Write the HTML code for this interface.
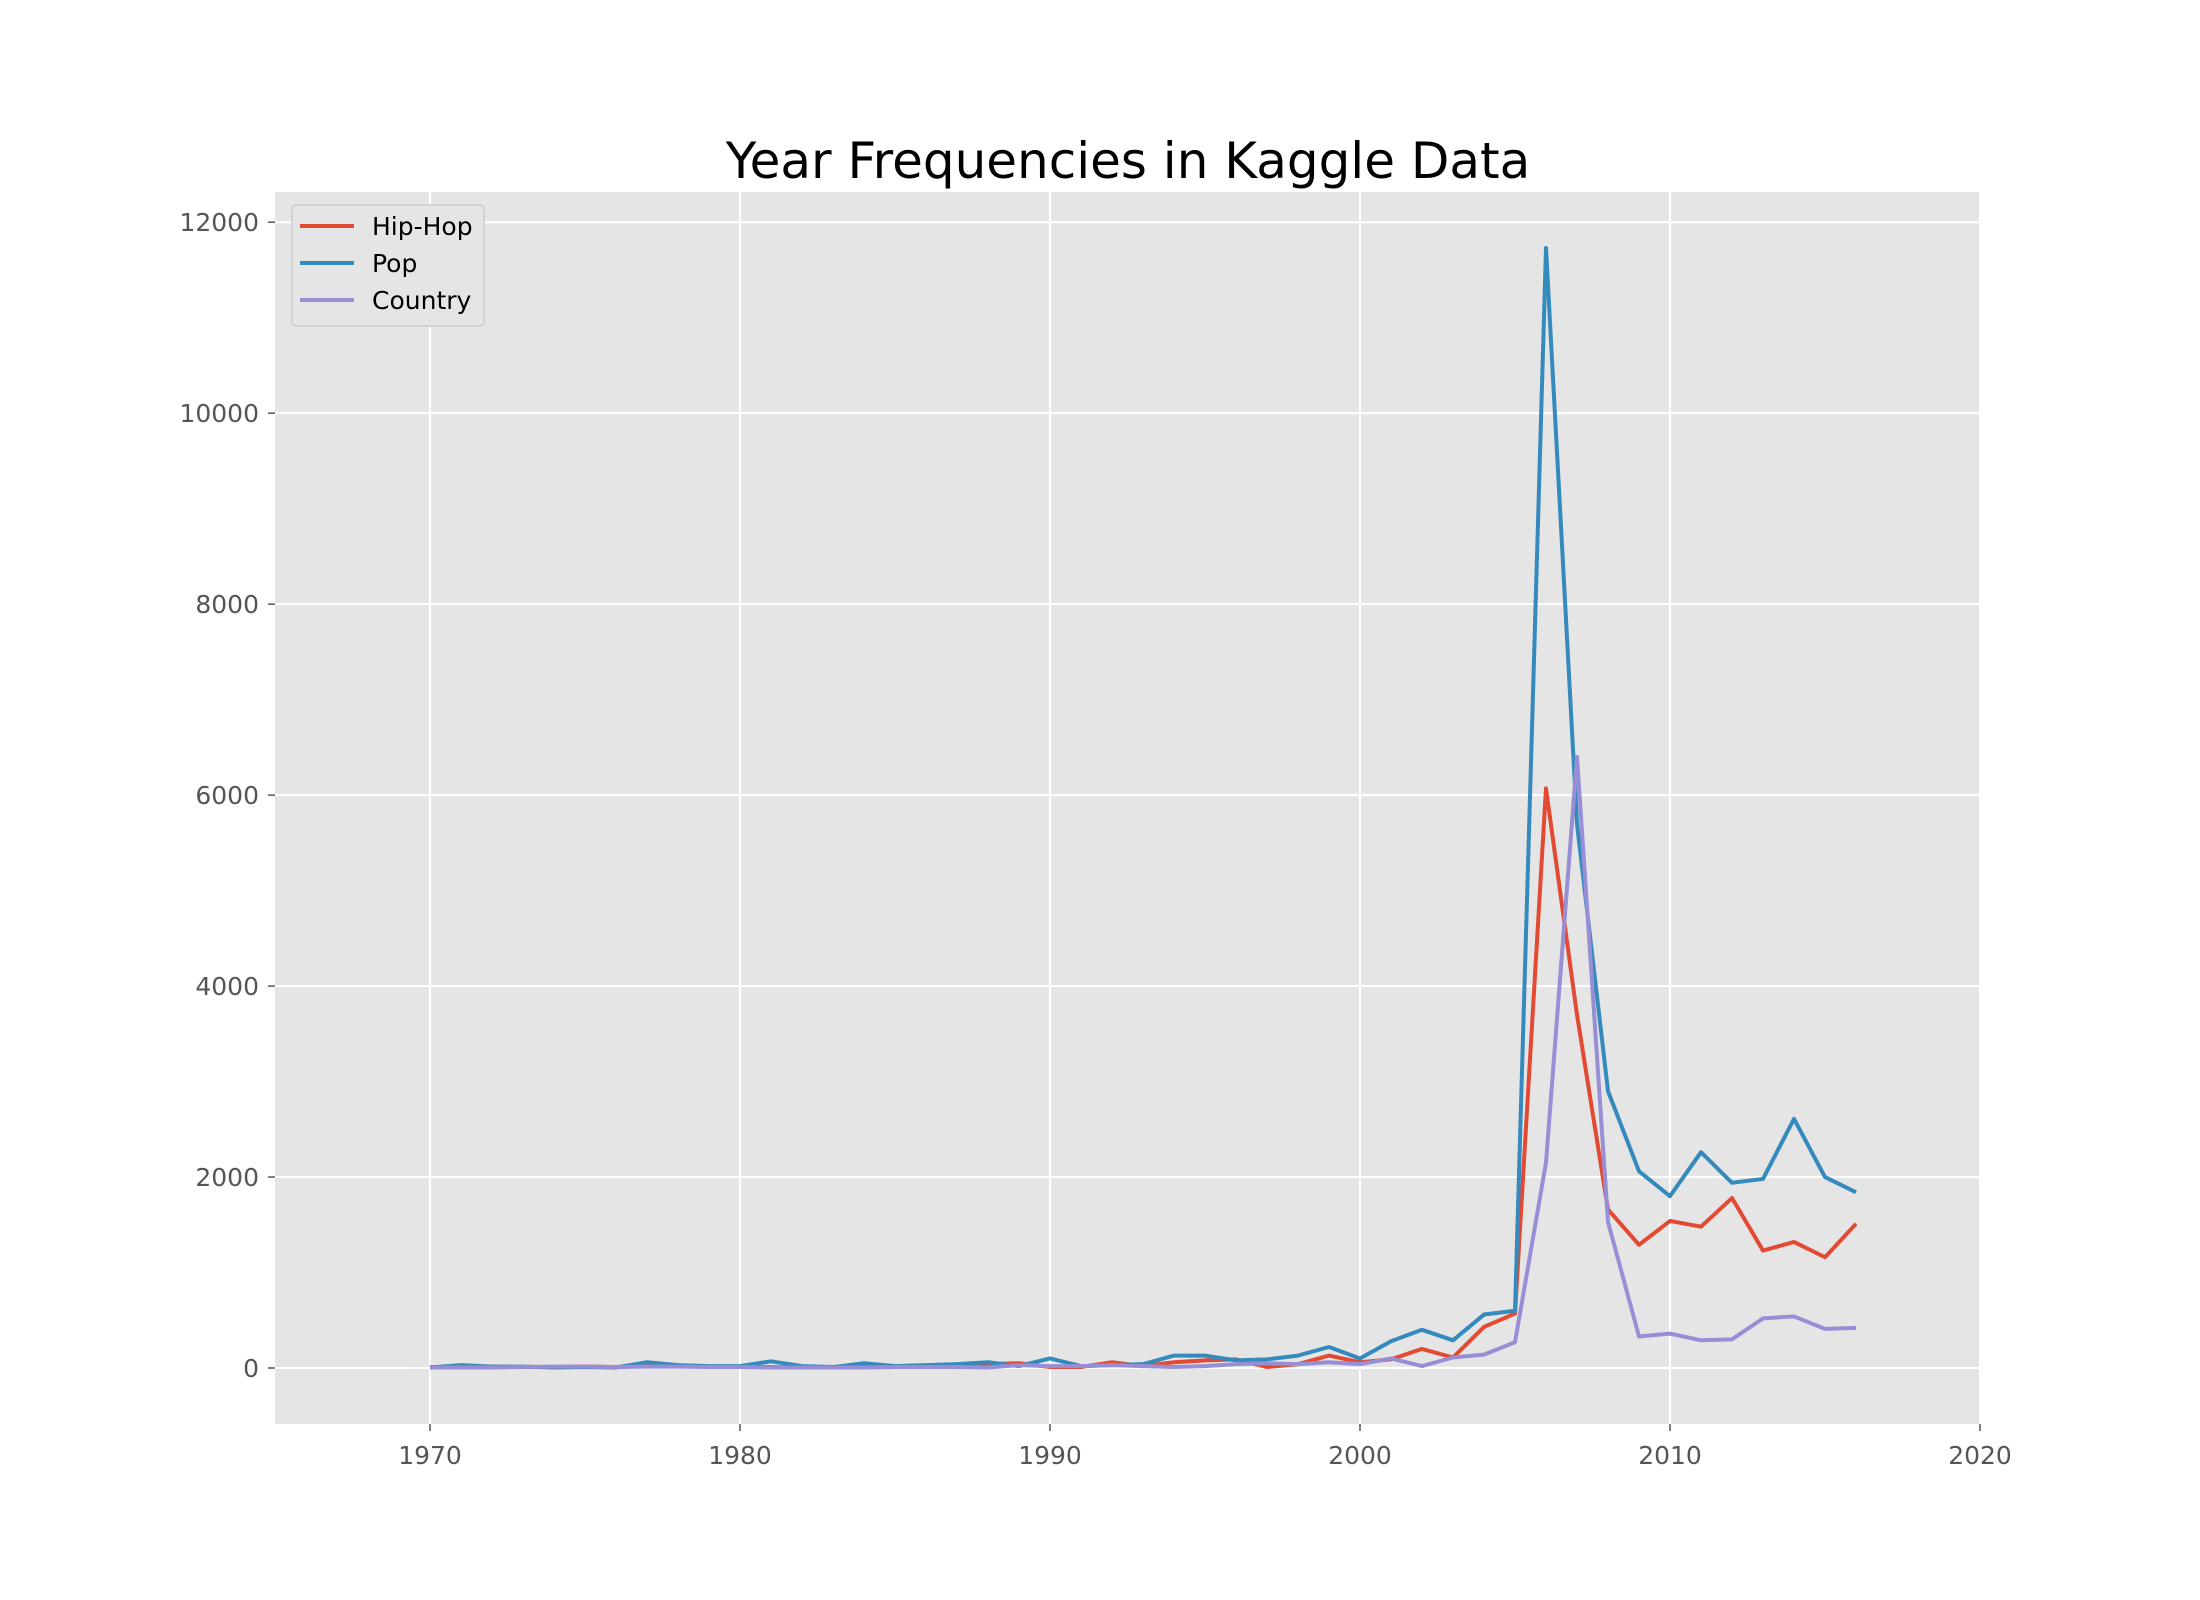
<!DOCTYPE html>
<html><head><meta charset="utf-8"><style>
html,body{margin:0;padding:0;background:#fff;}
svg{display:block;font-family:"DejaVu Sans","Liberation Sans",sans-serif;}
</style></head><body>
<svg id="chart" width="2200" height="1600" viewBox="0 0 2200 1600" xmlns="http://www.w3.org/2000/svg">
<rect width="2200" height="1600" fill="#fff"/>
<text x="1128" y="178" font-size="50" text-anchor="middle" fill="#000">Year Frequencies in Kaggle Data</text>
<g id="plot"></g>
</svg>
<script>
const years = [];
for (let y = 1970; y <= 2016; y++) years.push(y);
const hipHop = [10,10,15,10,10,15,10,20,20,15,10,10,5,10,15,20,25,30,40,50,10,10,60,20,60,80,90,10,40,130,60,90,200,110,430,570,6070,3700,1660,1290,1540,1480,1780,1230,1320,1160,1510];
const pop = [5,30,15,15,5,10,5,60,30,20,20,70,20,10,50,20,30,40,60,20,100,20,30,40,130,130,80,90,130,220,100,280,400,290,560,600,11730,5700,2900,2060,1800,2260,1940,1980,2610,2000,1840];
const country = [5,5,5,10,15,15,10,15,15,10,10,5,5,5,5,10,10,10,5,30,20,20,30,20,10,20,40,50,40,60,40,100,20,110,140,270,2150,6400,1530,330,360,290,300,520,540,410,420];
const xTicks = [1970,1980,1990,2000,2010,2020];
const yTicks = [0,2000,4000,6000,8000,10000,12000];
const seriesNames = ['Hip-Hop','Pop','Country'];
const seriesColors = ['#E24A33','#348ABD','#988ED5'];

const L=275,R=1980,T=192,B=1424;
const xMin=1965,xMax=2020,yMin=-586.5,yMax=12316.5;
const sx=v=>L+(v-xMin)/(xMax-xMin)*(R-L);
const sy=v=>B-(v-yMin)/(yMax-yMin)*(B-T);
const NS='http://www.w3.org/2000/svg';
const g=document.getElementById('plot');
function mk(tag,attrs,parent){const e=document.createElementNS(NS,tag);for(const k in attrs)e.setAttribute(k,attrs[k]);(parent||g).appendChild(e);return e;}

const bg=mk('rect',{x:L,y:T,width:R-L,height:B-T,fill:'#E5E5E5'});



xTicks.forEach(t=>{
  const x=sx(t);
  const gl=mk('line',{x1:x,x2:x,y1:T,y2:B,stroke:'#fff','stroke-width':2});
  
  
  const tk=mk('line',{x1:x,x2:x,y1:B,y2:B+7,stroke:'#555','stroke-width':1.5});
  
  
  const tx=mk('text',{x:x,y:B+40,'font-size':25,'text-anchor':'middle',fill:'#555'});
  tx.textContent=t;
  
  
});
yTicks.forEach(t=>{
  const y=sy(t);
  const gl=mk('line',{x1:L,x2:R,y1:y,y2:y,stroke:'#fff','stroke-width':2});
  
  
  const tk=mk('line',{x1:L-7,x2:L,y1:y,y2:y,stroke:'#555','stroke-width':1.5});
  
  
  const tx=mk('text',{x:L-16,y:y+9,'font-size':25,'text-anchor':'end',fill:'#555'});
  tx.textContent=t;
  
  
});

[hipHop,pop,country].forEach((vals,i)=>{
  const pts=vals.map((v,j)=>sx(years[j]).toFixed(2)+','+sy(v).toFixed(2)).join(' ');
  const pl=mk('polyline',{points:pts,fill:'none',stroke:seriesColors[i],'stroke-width':4,'stroke-linejoin':'round'});
  
  
});

const lg=mk('g',{});


const lb=mk('rect',{x:292,y:205,width:192,height:121,rx:4,fill:'#E5E5E5',stroke:'#ccc','stroke-width':1.5},lg);


seriesNames.forEach((n,i)=>{
  const y=226+i*37;
  const ln=mk('line',{x1:300,x2:354,y1:y,y2:y,stroke:seriesColors[i],'stroke-width':4},lg);
  
  
  const tx=mk('text',{x:372,y:y+9,'font-size':25,fill:'#000'},lg);
  tx.textContent=n;
  
  
});
</script>
</body></html>
